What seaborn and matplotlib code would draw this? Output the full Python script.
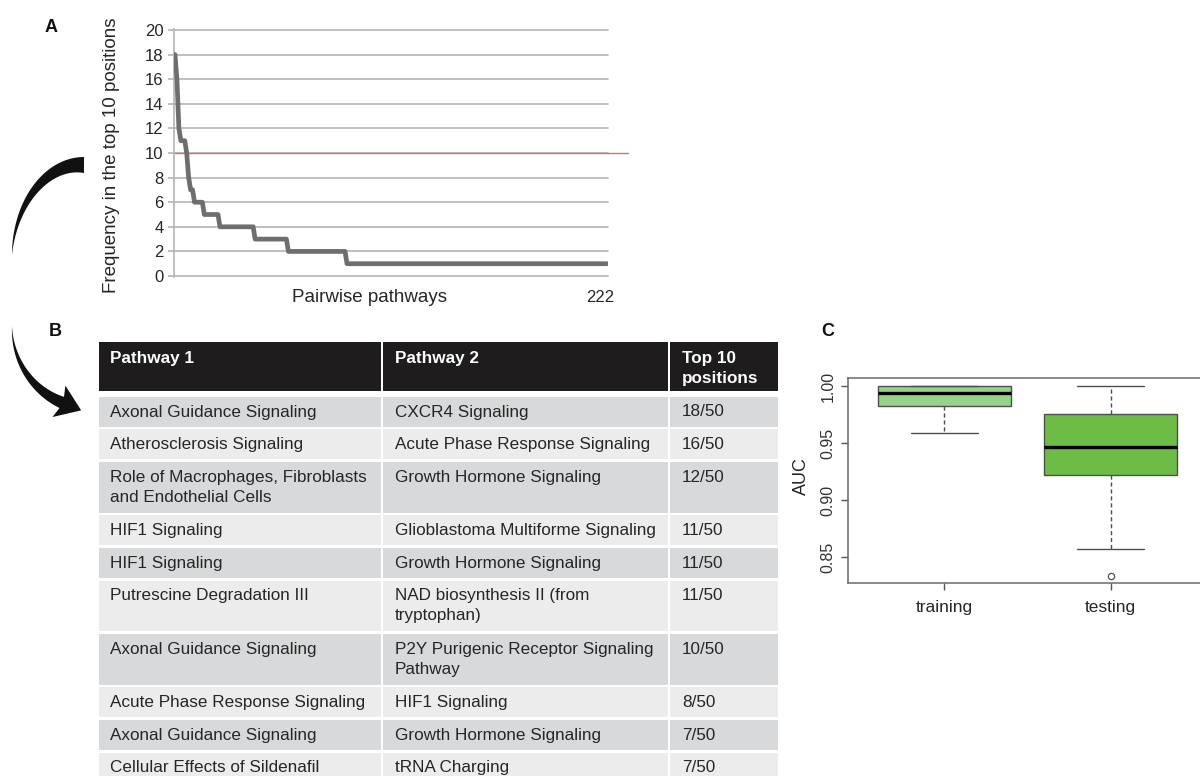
import numpy as np
import matplotlib
matplotlib.use("Agg")
import matplotlib.pyplot as plt
import seaborn as sns
from matplotlib.patches import Rectangle, Polygon

# ---------------- data ----------------
# A: frequency of each pathway pair among the top 10 positions (sorted)
n_runs = 50
n_pairs = 222
top_counts = [18, 16, 12, 11, 11, 11, 10, 8, 7, 7]
tail_levels = [6, 5, 4, 3, 2, 1]
tail_runs = [5, 8, 18, 17, 30, 134]
threshold = 10

# B: most frequent pathway pairs
pathway1 = [
    "Axonal Guidance Signaling",
    "Atherosclerosis Signaling",
    "Role of Macrophages, Fibroblasts\nand Endothelial Cells",
    "HIF1 Signaling",
    "HIF1 Signaling",
    "Putrescine Degradation III",
    "Axonal Guidance Signaling",
    "Acute Phase Response Signaling",
    "Axonal Guidance Signaling",
    "Cellular Effects of Sildenafil",
]
pathway2 = [
    "CXCR4 Signaling",
    "Acute Phase Response Signaling",
    "Growth Hormone Signaling",
    "Glioblastoma Multiforme Signaling",
    "Growth Hormone Signaling",
    "NAD biosynthesis II (from\ntryptophan)",
    "P2Y Purigenic Receptor Signaling\nPathway",
    "HIF1 Signaling",
    "Growth Hormone Signaling",
    "tRNA Charging",
]
header = ["Pathway 1", "Pathway 2", "Top 10\npositions"]

# C: AUC distribution summaries
groups = ["training", "testing"]
auc_q1 = [0.9825, 0.9225]
auc_med = [0.9936, 0.9464]
auc_q3 = [1.000, 0.9755]
auc_whislo = [0.9592, 0.8575]
auc_whishi = [1.000, 1.000]
auc_fliers = [[], [0.8341]]
box_colors = ["#97d28b", "#6dbc45"]

# ---------------- figure ----------------
sns.set_theme(style="white")
plt.rcParams["font.family"] = ["Liberation Sans", "DejaVu Sans"]

W, H = 1200, 776
fig = plt.figure(figsize=(W / 100, H / 100), dpi=100)
fig.patch.set_facecolor("white")


def box(x0, y0, x1, y1):
    """Axes rectangle given pixel edges (origin top-left)."""
    return [x0 / W, 1 - y1 / H, (x1 - x0) / W, (y1 - y0) / H]


TXT = "#262626"

# ---------------- panel A ----------------
freq = np.concatenate([top_counts, np.repeat(tail_levels, tail_runs)])
rank = np.arange(1, len(freq) + 1)

axA = fig.add_axes(box(174, 29, 608, 277))
grid_c = "#b4b4b4"
for v in range(0, 21, 2):
    axA.axhline(v, color=grid_c, lw=1.2, zorder=1, clip_on=False)
axA.axhline(threshold, xmin=0, xmax=(628 - 174) / 434, color="#dc6b6b",
            lw=1.0, zorder=2, clip_on=False)
sns.lineplot(x=rank, y=freq, ax=axA, color="#6e6e6e", lw=3.4, zorder=3)
axA.set_xlim(0.5, n_pairs + 0.5)
axA.set_ylim(-0.08, 20.08)
axA.set_yticks(range(0, 21, 2))
axA.set_xticks([])
axA.set_xlabel("")
axA.set_ylabel("")
for s in ["top", "right", "bottom"]:
    axA.spines[s].set_visible(False)
axA.spines["left"].set_color(grid_c)
axA.spines["left"].set_linewidth(1.2)
axA.tick_params(axis="y", length=4.5, width=1.2, color=grid_c, pad=3,
                labelsize=12, labelcolor=TXT, left=True)
axA.set_facecolor("none")

fig.text(112 / W, 1 - 155 / H, "Frequency in the top 10 positions",
         rotation=90, ha="center", va="center", fontsize=13.5, color=TXT)
fig.text(370 / W, 1 - 297 / H, "Pairwise pathways", ha="center",
         va="center", fontsize=13.5, color=TXT)
fig.text(600 / W, 1 - 297 / H, str(n_pairs), ha="center", va="center",
         fontsize=12, color=TXT)

# ---------------- overlay (table, arrows, panel letters) ----------------
ov = fig.add_axes([0, 0, 1, 1], zorder=-1)
ov.set_xlim(0, W)
ov.set_ylim(H, 0)
ov.axis("off")

for lbl, (px, py) in zip("ABC", [(51, 28), (55, 332), (828, 331)]):
    fig.text(px / W, 1 - py / H, lbl, fontsize=13, fontweight="bold",
             ha="center", va="center", color="#111111")

# curved arrow linking panel A to panel B
th = np.linspace(0, np.pi / 2, 80)
cx, cy, rx, ry = 84, 255, 72, 98
w = 16 * (1 - th / (np.pi / 2))
outer = np.c_[cx - rx * np.sin(th), cy - ry * np.cos(th)]
inner = np.c_[cx - (rx - w) * np.sin(th), cy - (ry - w) * np.cos(th)]
ov.add_patch(Polygon(np.vstack([outer, inner[::-1]]), closed=True,
                     fc="#111111", ec="none"))

cx2, cy2, rx2, ry2 = 90, 326, 78, 82
phi_b = 1.2
ph = np.linspace(0, phi_b, 80)
pts = np.c_[cx2 - rx2 * np.cos(ph), cy2 + ry2 * np.sin(ph)]
tan = np.c_[rx2 * np.sin(ph), ry2 * np.cos(ph)]
tan = tan / np.linalg.norm(tan, axis=1)[:, None]
nrm = np.c_[-tan[:, 1], tan[:, 0]]
ww = 12 * (ph / phi_b) ** 1.1
side1 = pts + nrm * ww[:, None] / 2
side2 = pts - nrm * ww[:, None] / 2
b, tb, nb = pts[-1], tan[-1], nrm[-1]
head = np.array([b + nb * 17 - tb * 3, b + tb * 21, b - nb * 17 - tb * 3])
ov.add_patch(Polygon(np.vstack([side1, head, side2[::-1]]), closed=True,
                     fc="#111111", ec="none"))

# table
col_l = [98.5, 383.0, 670.0]
col_r = [381.0, 668.0, 778.0]
text_dx = 12
head_top, head_bot = 342, 391
fs_tab = 12.3
line_gap = 19.8
for j in range(3):
    ov.add_patch(Rectangle((col_l[j], head_top), col_r[j] - col_l[j],
                           head_bot - head_top, fc="#1e1c1d", ec="none"))
    for k, ln in enumerate(header[j].split("\n")):
        ov.text(col_l[j] + text_dx, head_top + 16.5 + k * line_gap, ln,
                color="white", fontweight="bold", fontsize=fs_tab,
                ha="left", va="center")

top10_labels = [f"{c}/{n_runs}" for c in top_counts]
y = 396.8
for i, (p1, p2, t) in enumerate(zip(pathway1, pathway2, top10_labels)):
    cells = [p1, p2, t]
    nl = max(c.count("\n") + 1 for c in cells)
    h = 29.8 if nl == 1 else 50.6
    fc = "#d8d9da" if i % 2 == 0 else "#ececed"
    for j, c in enumerate(cells):
        ov.add_patch(Rectangle((col_l[j], y), col_r[j] - col_l[j], h,
                               fc=fc, ec="none"))
        for k, ln in enumerate(c.split("\n")):
            ov.text(col_l[j] + text_dx, y + 15.2 + k * line_gap, ln,
                    color=TXT, fontsize=fs_tab, ha="left", va="center")
    y += h + 2.8

# ---------------- panel C ----------------
axC = fig.add_axes(box(848, 377.7, 1207, 583.3))
stats = []
for g, q1, md, q3, lo, hi, fl in zip(groups, auc_q1, auc_med, auc_q3,
                                     auc_whislo, auc_whishi, auc_fliers):
    stats.append(dict(label=g, q1=q1, med=md, q3=q3, whislo=lo, whishi=hi,
                      fliers=np.array(fl)))
edge = "#4f4f4f"
bp = axC.bxp(stats, positions=[0, 1], widths=0.8, patch_artist=True,
             boxprops=dict(edgecolor=edge, linewidth=1.0),
             medianprops=dict(color="black", linewidth=2.4),
             whiskerprops=dict(color=edge, linewidth=1.0,
                               linestyle=(0, (3, 2))),
             capprops=dict(color=edge, linewidth=1.0),
             flierprops=dict(marker="o", markerfacecolor="none",
                             markeredgecolor=edge, markersize=4.5,
                             markeredgewidth=0.9))
for patch, c in zip(bp["boxes"], box_colors):
    patch.set_facecolor(c)
axC.set_xlim(-0.58, 1.58)
axC.set_ylim(0.8273, 1.0073)
axC.set_yticks([0.85, 0.90, 0.95, 1.00])
axC.set_yticklabels(["0.85", "0.90", "0.95", "1.00"], rotation=90,
                    va="center")
axC.set_xticks([0, 1])
axC.set_xticklabels(groups)
for s in axC.spines.values():
    s.set_color("#6a6a6a")
    s.set_linewidth(1.1)
axC.tick_params(axis="y", length=5, width=1, color="#555555", pad=4,
                labelsize=11.5, labelcolor="#333333", left=True)
axC.tick_params(axis="x", length=5, width=1, color="#555555", pad=7,
                labelsize=12.5, labelcolor=TXT, bottom=True)
axC.set_facecolor("white")
fig.text(801.7 / W, 1 - 476 / H, "AUC", rotation=90, ha="center",
         va="center", fontsize=13, color=TXT)

fig.savefig("out.png", dpi=100, facecolor="white")
